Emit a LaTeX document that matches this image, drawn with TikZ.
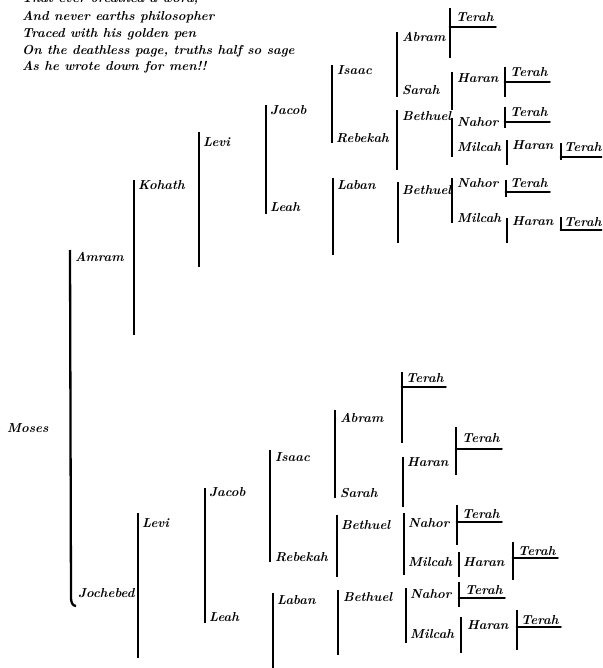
\documentclass[tikz,border=0pt]{standalone}
\usetikzlibrary{calc}
\newcommand\bracketline[4]{\coordinate (#1t) at (#2,#3);\coordinate (#1b) at (#2,#4);\draw[bar] (#1t) -- (#1b);}
\newcommand\terahul[3]{\draw[ul] (#1t |- 0,#3) -- ($(#2.east |- 0,#3)+(2,0)$);}
\begin{document}
\begin{tikzpicture}[x=1pt,y=-1pt,
  nm/.style={anchor=west,inner sep=0pt,font=\fontsize{13}{15}\selectfont\bfseries\itshape},
  poem/.style={anchor=base west,inner sep=0pt,font=\fontsize{13}{15}\selectfont\bfseries\itshape},
  bar/.style={line width=2.3pt},
  ul/.style={line width=2.8pt,line cap=round}]
\useasboundingbox (0,0) rectangle (602,668);
\clip (0,0) rectangle (602,668);
% poem
\node[poem] (p0) at (22,2.5) {That ever breathed a word;};
\node[poem] (p1) at (22,21) {And never earths philosopher};
\node[poem] (p2) at (22,38) {Traced with his golden pen};
\node[poem] (p3) at (22,55) {On the deathless page, truths half so sage};
\node[poem] (p4) at (22,71) {As he wrote down for men!!};
% Moses
\node[nm] (moses) at (7,428) {Moses};
\coordinate (mot) at (70,250);
\coordinate (mom) at (71,598);
\coordinate (mob) at (76,606);
\draw[bar] (mot) -- (mom) to[out=-90,in=180] (mob);
\node[nm] (amram) at (75,257) {Amram};
\node[nm] (jochebed) at (78,593) {Jochebed};
% ===== upper tree =====
\bracketline{ko}{134}{180}{335}
\node[nm] (kohath) at (138,185) {Kohath};
\bracketline{le}{199}{132}{267}
\node[nm] (levi) at (203,142) {Levi};
\bracketline{jl}{266}{105}{214}
\node[nm] (jacob) at (270,110) {Jacob};
\node[nm] (leah) at (270,207) {Leah};
\bracketline{ir}{332}{65}{143}
\node[nm] (isaac) at (337,70) {Isaac};
\node[nm] (rebekah) at (336,138) {Rebekah};
\bracketline{as}{397}{32}{97}
\node[nm] (abram) at (402,37) {Abram};
\node[nm] (sarah) at (402,90) {Sarah};
\bracketline{ta}{450}{8}{58}
\node[nm] (terahA) at (456,17) {Terah};
\terahul{ta}{terahA}{27}
\bracketline{hs}{452}{72}{110}
\node[nm] (haranS) at (457,78) {Haran};
\bracketline{th}{505}{67}{97}
\node[nm] (terahB) at (510,72) {Terah};
\terahul{th}{terahB}{82}
\bracketline{br}{397}{110}{170}
\node[nm] (bethuelR) at (402,116) {Bethuel};
\bracketline{nm}{452}{118}{157}
\node[nm] (nahorA) at (457,122) {Nahor};
\node[nm] (milcahA) at (457,147) {Milcah};
\bracketline{tn}{505}{107}{128}
\node[nm] (terahC) at (510,112) {Terah};
\terahul{tn}{terahC}{122}
\bracketline{hm}{507}{140}{165}
\node[nm] (haranM) at (512,145) {Haran};
\bracketline{tm}{561}{143}{160}
\node[nm] (terahD) at (564,147) {Terah};
\terahul{tm}{terahD}{157}
\bracketline{la}{333}{178}{255}
\node[nm] (laban) at (337,185) {Laban};
\bracketline{bl}{398}{182}{243}
\node[nm] (bethuelL) at (402,190) {Bethuel};
\bracketline{nl}{452}{178}{223}
\node[nm] (nahorB) at (457,183) {Nahor};
\node[nm] (milcahB) at (457,218) {Milcah};
\bracketline{tnl}{506}{180}{197}
\node[nm] (terahE) at (510,183) {Terah};
\terahul{tnl}{terahE}{192}
\bracketline{hml}{507}{218}{243}
\node[nm] (haranML) at (512,221) {Haran};
\bracketline{tml}{561}{217}{231}
\node[nm] (terahF) at (564,222) {Terah};
\terahul{tml}{terahF}{230}
% ===== lower tree =====
\bracketline{lv}{138}{513}{658}
\node[nm] (levi2) at (142,523) {Levi};
\bracketline{jl2}{205}{488}{623}
\node[nm] (jacob2) at (209,492) {Jacob};
\node[nm] (leah2) at (209,617) {Leah};
\bracketline{ir2}{270}{450}{562}
\node[nm] (isaac2) at (275,457) {Isaac};
\node[nm] (rebekah2) at (275,557) {Rebekah};
\bracketline{la2}{273}{593}{668}
\node[nm] (laban2) at (277,600) {Laban};
\bracketline{as2}{335}{410}{498}
\node[nm] (abram2) at (340,418) {Abram};
\node[nm] (sarah2) at (340,493) {Sarah};
\bracketline{ta2}{402}{372}{443}
\node[nm] (terahG) at (406,378) {Terah};
\terahul{ta2}{terahG}{387}
\bracketline{hs2}{403}{457}{507}
\node[nm] (haranS2) at (407,462) {Haran};
\bracketline{th2}{456}{427}{475}
\node[nm] (terahH) at (462,438) {Terah};
\terahul{th2}{terahH}{449}
\bracketline{br2}{337}{515}{577}
\node[nm] (bethuelR2) at (341,525) {Bethuel};
\bracketline{nm2}{404}{513}{575}
\node[nm] (nahorC) at (408,523) {Nahor};
\node[nm] (milcahC) at (408,562) {Milcah};
\bracketline{tn2}{457}{505}{545}
\node[nm] (terahI) at (462,514) {Terah};
\terahul{tn2}{terahI}{522}
\bracketline{hm2}{459}{552}{577}
\node[nm] (haranM2) at (463,562) {Haran};
\bracketline{tm2}{513}{542}{580}
\node[nm] (terahJ) at (518,551) {Terah};
\terahul{tm2}{terahJ}{558}
\bracketline{bl2}{338}{590}{655}
\node[nm] (bethuelL2) at (343,597) {Bethuel};
\bracketline{nl2}{406}{588}{643}
\node[nm] (nahorD) at (410,594) {Nahor};
\node[nm] (milcahD) at (410,634) {Milcah};
\bracketline{tnl2}{459}{582}{607}
\node[nm] (terahK) at (465,590) {Terah};
\terahul{tnl2}{terahK}{598}
\bracketline{hml2}{461}{617}{653}
\node[nm] (haranML2) at (467,625) {Haran};
\bracketline{tml2}{517}{610}{650}
\node[nm] (terahL) at (521,620) {Terah};
\terahul{tml2}{terahL}{627}
\end{tikzpicture}
\end{document}
